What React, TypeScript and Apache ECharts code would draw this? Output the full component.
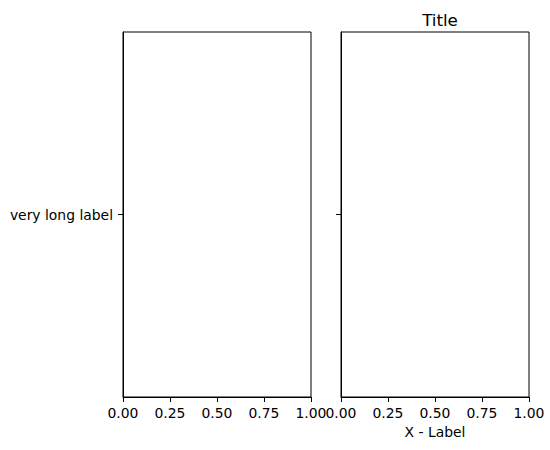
import React, { useEffect, useRef } from "react";
import * as echarts from "echarts";

const categories = ["very long label"];
const xMin = 0;
const xMax = 1;
const xInterval = 0.25;
const titleText = "Title";
const xLabelText = "X - Label";

const FONT = "DejaVu Sans";

export default function App() {
  const ref = useRef<HTMLDivElement>(null);
  useEffect(() => {
    if (!ref.current) return;
    const chart = echarts.init(ref.current, undefined, { renderer: "svg" });
    const xAxisBase = (idx: number, withName: boolean) => ({
      type: "value" as const,
      gridIndex: idx,
      min: xMin,
      max: xMax,
      interval: xInterval,
      name: withName ? xLabelText : "",
      nameLocation: "middle" as const,
      nameGap: 27,
      nameTextStyle: { color: "#000", fontFamily: FONT, fontSize: 13.9 },
      axisLine: { show: true, lineStyle: { color: "#000", width: 1 } },
      axisTick: { show: true, length: 5, lineStyle: { color: "#000", width: 1 } },
      axisLabel: {
        color: "#000",
        fontFamily: FONT,
        fontSize: 13.9,
        margin: 9,
        showMinLabel: true,
        showMaxLabel: true,
        formatter: (v: number) => v.toFixed(2),
      },
      splitLine: { show: false },
    });
    const yAxisBase = (idx: number, showLabel: boolean) => ({
      type: "category" as const,
      gridIndex: idx,
      data: categories,
      axisLine: { show: true, lineStyle: { color: "#000", width: 1 } },
      axisTick: { show: true, length: 5, alignWithLabel: true, lineStyle: { color: "#000", width: 1 } },
      axisLabel: {
        show: showLabel,
        color: "#000",
        fontFamily: FONT,
        fontSize: 13.9,
        margin: 10,
      },
      splitLine: { show: false },
    });
    chart.setOption({
      animation: false,
      backgroundColor: "#fff",
      title: {
        text: titleText,
        left: 435,
        top: 6,
        textAlign: "center",
        textStyle: { color: "#000", fontFamily: FONT, fontSize: 16.7, fontWeight: "normal" },
      },
      grid: [
        { left: 123, top: 32, width: 188, height: 365, show: true, borderColor: "#000", borderWidth: 1, backgroundColor: "transparent" },
        { left: 341, top: 32, width: 188, height: 365, show: true, borderColor: "#000", borderWidth: 1, backgroundColor: "transparent" },
      ],
      xAxis: [xAxisBase(0, false), xAxisBase(1, true)],
      yAxis: [yAxisBase(0, true), yAxisBase(1, false)],
      series: [
        { type: "scatter", xAxisIndex: 0, yAxisIndex: 0, data: [] },
        { type: "scatter", xAxisIndex: 1, yAxisIndex: 1, data: [] },
      ],
    });
    return () => chart.dispose();
  }, []);
  return (
    <div
      ref={ref}
      style={{ position: "fixed", left: 0, top: 0, width: 550, height: 450 }}
    />
  );
}
